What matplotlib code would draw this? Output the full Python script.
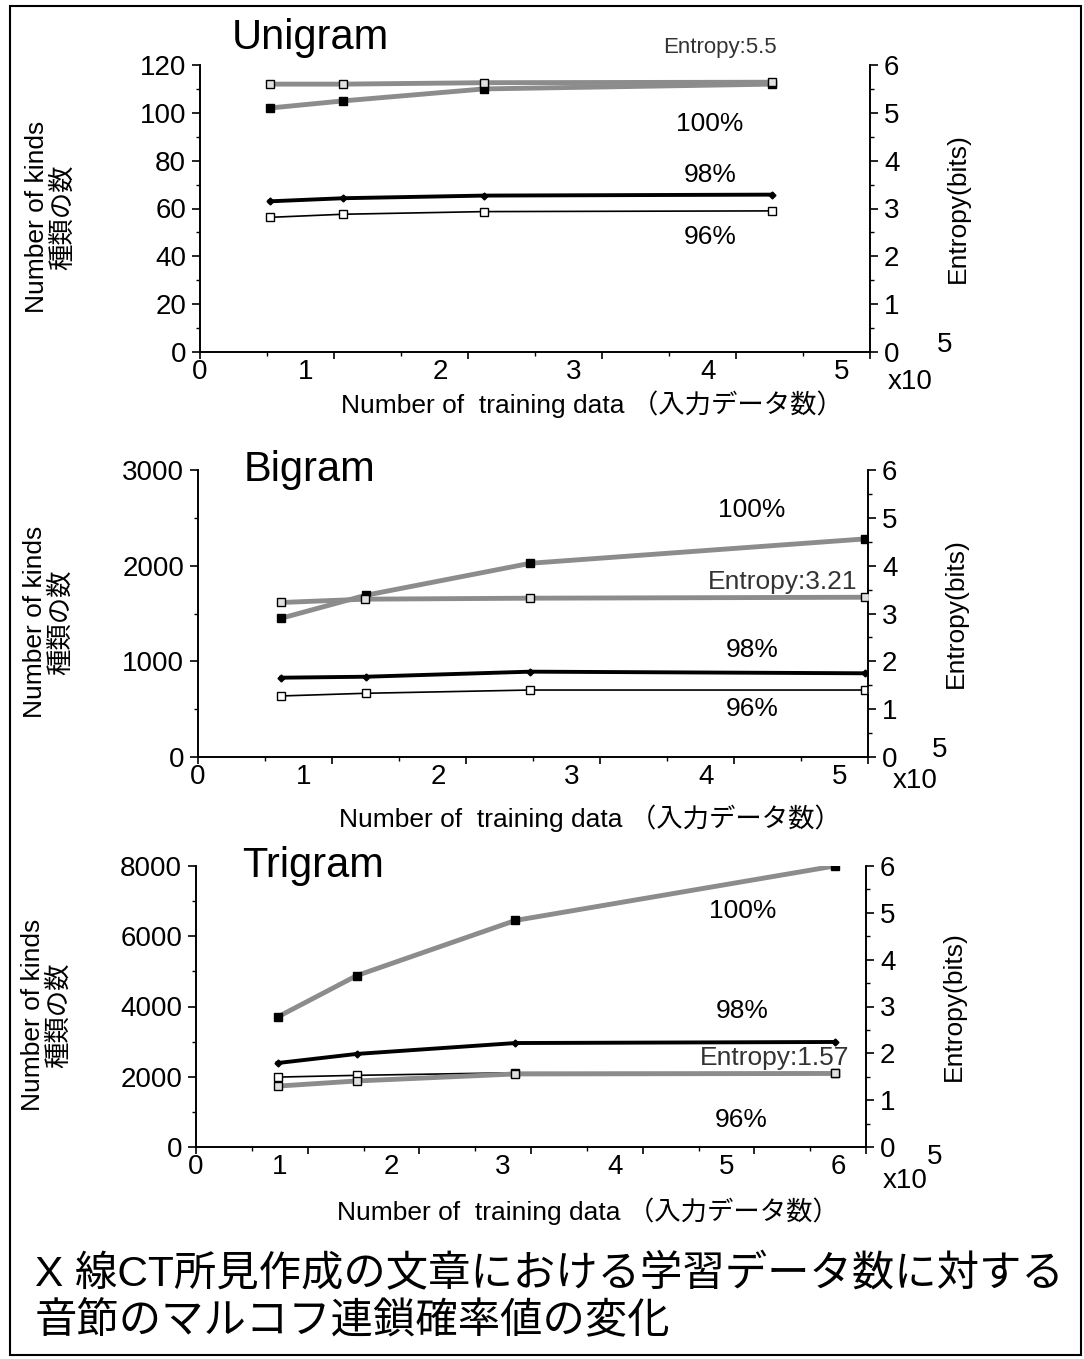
import matplotlib
matplotlib.use('Agg')
import matplotlib.pyplot as plt
import matplotlib.transforms as mtransforms
from matplotlib.patches import Rectangle

plt.rcParams['font.family'] = ['Liberation Sans', 'Noto Sans CJK JP', 'DejaVu Sans']

# training data counts (x10^5) and values
uni_x = [0.52, 1.07, 2.12, 4.27]
uni_100 = [102, 105, 110, 112]
uni_98 = [63, 64.3, 65.4, 65.8]
uni_96 = [56.3, 57.6, 58.7, 59.0]
uni_ent = [5.60, 5.60, 5.63, 5.64]

bi_x = [0.62, 1.25, 2.48, 4.98]
bi_100 = [1450, 1690, 2025, 2280]
bi_98 = [829, 839, 892, 875]
bi_96 = [638, 666, 700, 700]
bi_ent = [3.23, 3.30, 3.32, 3.34]

tri_x = [0.73, 1.44, 2.86, 5.72]
tri_100 = [3700, 4880, 6450, 8000]
tri_98 = [2390, 2650, 2960, 2990]
tri_96 = [1990, 2040, 2115, 2115]
tri_ent = [1.30, 1.41, 1.56, 1.57]

panels = [
    dict(name='Unigram', x=uni_x, p100=uni_100, p98=uni_98, p96=uni_96, ent=uni_ent,
         ent_label='Entropy:5.5', ymax=120, ystep=20, xmax=5,
         rect=[200, 65, 870, 352],
         title_pos=(0.164, 1.094), lab100=(0.761, 0.794), lab98=(0.761, 0.617),
         lab96=(0.761, 0.401), labent=(0.776, 1.06), ent_fs=16,
         xlab_y=-0.135, x10=(1.06, -0.105), sup=(1.112, 0.024)),
    dict(name='Bigram', x=bi_x, p100=bi_100, p98=bi_98, p96=bi_96, ent=bi_ent,
         ent_label='Entropy:3.21', ymax=3000, ystep=1000, xmax=5,
         rect=[198, 470, 868, 757],
         title_pos=(0.166, 1.0), lab100=(0.827, 0.861), lab98=(0.827, 0.373),
         lab96=(0.827, 0.167), labent=(0.872, 0.61), ent_fs=19,
         xlab_y=-0.165, x10=(1.07, -0.085), sup=(1.107, 0.024)),
    dict(name='Trigram', x=tri_x, p100=tri_100, p98=tri_98, p96=tri_96, ent=tri_ent,
         ent_label='Entropy:1.57', ymax=8000, ystep=2000, xmax=6,
         rect=[196, 866, 866, 1147],
         title_pos=(0.175, 1.0), lab100=(0.816, 0.84), lab98=(0.815, 0.484),
         lab96=(0.813, 0.096), labent=(0.864, 0.317), ent_fs=19,
         xlab_y=-0.18, x10=(1.058, -0.12), sup=(1.103, -0.036)),
]

W, H = 1084, 1359
fig = plt.figure(figsize=(W / 100, H / 100), dpi=100)

grey = '#8c8c8c'
for p in panels:
    x0, y0, x1, y1 = p['rect']
    ax = fig.add_axes([x0 / W, 1 - y1 / H, (x1 - x0) / W, (y1 - y0) / H])
    ax2 = ax.twinx()

    ax.plot(p['x'], p['p100'], color=grey, lw=3.5, marker='s', ms=6,
            mfc='black', mec='black', zorder=3)
    ax.plot(p['x'], p['p98'], color='black', lw=2.8, marker='D', ms=3.5,
            mfc='black', mec='black', zorder=3)
    ax.plot(p['x'], p['p96'], color='black', lw=1.2, marker='s', ms=6,
            mfc='white', mec='black', mew=1.0, zorder=3)
    ax2.plot(p['x'], p['ent'], color=grey, lw=3.5, marker='s', ms=6,
             mfc='#e0e0e0', mec='black', mew=1.0, zorder=3)

    ax.set_xlim(0, p['xmax'])
    ax.set_ylim(0, p['ymax'])
    ax2.set_ylim(0, 6)
    ax.set_xticks(range(0, p['xmax'] + 1))
    ax.set_xticks([i * 0.5 for i in range(0, 2 * p['xmax'] + 1)], minor=True)
    ax.set_yticks(range(0, p['ymax'] + 1, p['ystep']))
    ax.set_yticks(range(0, p['ymax'] + 1, p['ystep'] // 2), minor=True)
    ax2.set_yticks(range(0, 7))
    ax2.set_yticks([i * 0.5 for i in range(13)], minor=True)

    for a in (ax, ax2):
        a.spines['top'].set_visible(False)
        for s in a.spines.values():
            s.set_linewidth(1.2)
        a.tick_params(which='major', length=6, width=1.2, labelsize=20, pad=4)
        a.tick_params(which='minor', length=3, width=1.0)
    ax.tick_params(axis='x', which='major', length=5, pad=0)

    # x tick labels in the original sit left of their ticks
    for i, lab in enumerate(ax.get_xticklabels()):
        if i > 0:
            lab.set_transform(lab.get_transform() +
                              mtransforms.ScaledTranslation(-0.28, 0, fig.dpi_scale_trans))

    ax.set_xlabel('Number of  training data （入力データ数）', fontsize=19)
    ax.xaxis.set_label_coords(0.585, p['xlab_y'])
    ax.set_ylabel('Number of kinds\n種類の数', fontsize=19, linespacing=1.05)
    ax.yaxis.set_label_coords(-0.187, 0.47)
    ax2.set_ylabel('Entropy(bits)', fontsize=19)
    ax2.yaxis.set_label_coords(1.113, 0.5)

    ax.text(*p['title_pos'], p['name'], transform=ax.transAxes, fontsize=30,
            ha='center', va='center')
    ax.text(*p['lab100'], '100%', transform=ax.transAxes, fontsize=19, ha='center', va='center')
    ax.text(*p['lab98'], '98%', transform=ax.transAxes, fontsize=19, ha='center', va='center')
    ax.text(*p['lab96'], '96%', transform=ax.transAxes, fontsize=19, ha='center', va='center')
    ax.text(*p['labent'], p['ent_label'], transform=ax.transAxes, fontsize=p['ent_fs'],
            ha='center', va='center', color='#333333')
    ax.text(*p['x10'], 'x10', transform=ax.transAxes, fontsize=20, ha='center', va='center')
    ax.text(*p['sup'], '5', transform=ax.transAxes, fontsize=20, ha='center', va='center')

fig.text(35 / W, 1 - 1275 / H, 'X 線CT所見作成の文章における学習データ数に対する',
         fontsize=30.5, ha='left', va='center')
fig.text(35 / W, 1 - 1322 / H, '音節のマルコフ連鎖確率値の変化',
         fontsize=30.5, ha='left', va='center')

fig.patches.append(Rectangle((10 / W, 1 - 1355 / H), (1081 - 10) / W, (1355 - 6) / H,
                             transform=fig.transFigure, fill=False, lw=1.5,
                             edgecolor='black'))

fig.savefig('out.png', dpi=100)
